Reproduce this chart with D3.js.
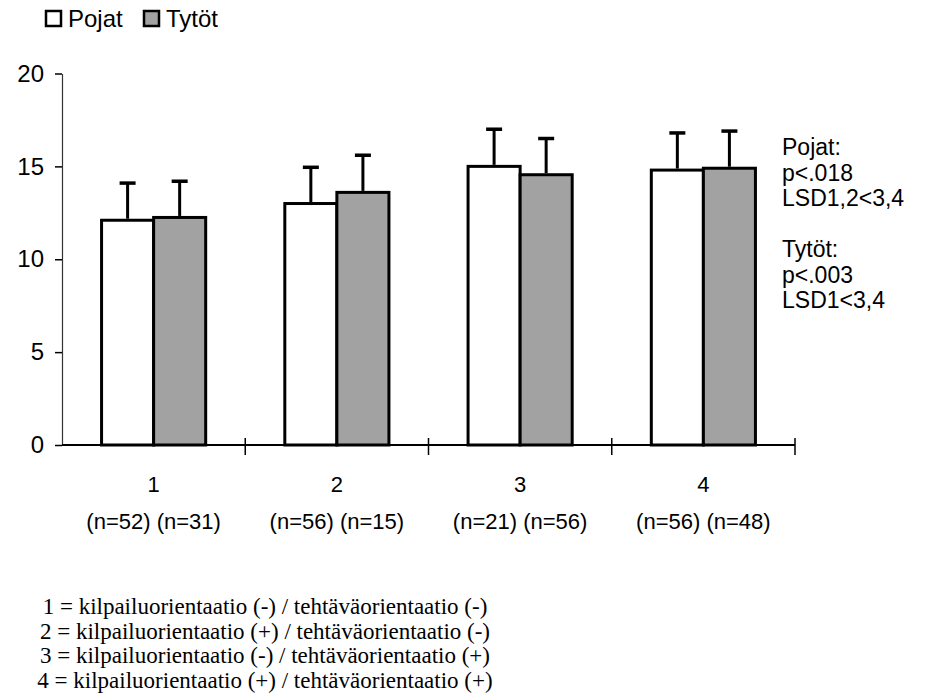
<!DOCTYPE html>
<html>
<head>
<meta charset="utf-8">
<script src="https://cdn.jsdelivr.net/npm/d3@7"></script>
<style>
  body { margin: 0; background: #fff; }
  text { font-family: "Liberation Sans", Arial, sans-serif; fill: #000; }
  .serif { font-family: "Liberation Serif", "Times New Roman", serif; }
</style>
</head>
<body>
<svg id="chart" width="936" height="693"></svg>
<script>
// data
var categories = ["1", "2", "3", "4"];
var nLabels = ["(n=52) (n=31)", "(n=56) (n=15)", "(n=21) (n=56)", "(n=56) (n=48)"];
var series = ["Pojat", "Tytöt"];
var pojatMean = [12.1, 13.0, 15.0, 14.8];
var tytotMean = [12.25, 13.6, 14.55, 14.9];
var pojatSD = [2.0, 1.95, 2.0, 2.0];
var tytotSD = [1.95, 2.0, 1.95, 2.0];
var yTicks = [0, 5, 10, 15, 20];
var statLines = ["Pojat:", "p<.018", "LSD1,2<3,4", "", "Tytöt:", "p<.003", "LSD1<3,4"];
var footLines = [
  "1 = kilpailuorientaatio (-) / tehtäväorientaatio (-)",
  "2 = kilpailuorientaatio (+) / tehtäväorientaatio (-)",
  "3 = kilpailuorientaatio (-) / tehtäväorientaatio (+)",
  "4 = kilpailuorientaatio (+) / tehtäväorientaatio (+)"
];

var svg = d3.select("#chart");
var plotL = 62, plotR = 795, plotT = 73.5, plotB = 445;

var fills = ["#fff", "#a2a2a2"];

var x = d3.scaleBand().domain(categories).range([plotL, plotR]).padding(0);
var xs = d3.scaleBand().domain(series).range([0, x.bandwidth()]).paddingInner(0).paddingOuter(0.76);
var y = d3.scaleLinear().domain([0, 20]).range([plotB, plotT]);

var data = categories.map(function(c, i) {
  return [
    { cat: c, key: "Pojat", mean: pojatMean[i], sd: pojatSD[i] },
    { cat: c, key: "Tytöt", mean: tytotMean[i], sd: tytotSD[i] }
  ];
});

// y axis
var yAxis = svg.append("g").attr("transform", "translate(" + plotL + ",0)")
  .call(d3.axisLeft(y).tickValues(yTicks).tickSize(7).tickSizeOuter(0).tickPadding(11));
yAxis.select(".domain").attr("stroke", "#333").attr("stroke-width", 1.2);
yAxis.selectAll(".tick line").attr("stroke", "#000").attr("stroke-width", 1.5);
yAxis.selectAll(".tick text").style("font-size", "24px").style("font-family", "Liberation Sans, Arial, sans-serif").attr("fill", "#000");

// bars
var groups = svg.selectAll("g.grp").data(data).enter().append("g")
  .attr("class", "grp")
  .attr("transform", function(d) { return "translate(" + x(d[0].cat) + ",0)"; });

groups.selectAll("rect").data(function(d) { return d; }).enter().append("rect")
  .attr("x", function(d) { return xs(d.key); })
  .attr("y", function(d) { return y(d.mean); })
  .attr("width", xs.bandwidth())
  .attr("height", function(d) { return y(0) - y(d.mean); })
  .attr("fill", function(d, i) { return fills[i]; })
  .attr("stroke", "#000").attr("stroke-width", 3);

// error bars (upper only)
var capW = 16;
groups.selectAll("line.err").data(function(d) { return d; }).enter().append("line")
  .attr("class", "err")
  .attr("x1", function(d) { return xs(d.key) + xs.bandwidth() / 2; })
  .attr("x2", function(d) { return xs(d.key) + xs.bandwidth() / 2; })
  .attr("y1", function(d) { return y(d.mean) - 1.5; })
  .attr("y2", function(d) { return y(d.mean + d.sd); })
  .attr("stroke", "#000").attr("stroke-width", 3);
groups.selectAll("line.cap").data(function(d) { return d; }).enter().append("line")
  .attr("class", "cap")
  .attr("x1", function(d) { return xs(d.key) + xs.bandwidth() / 2 - capW / 2; })
  .attr("x2", function(d) { return xs(d.key) + xs.bandwidth() / 2 + capW / 2; })
  .attr("y1", function(d) { return y(d.mean + d.sd); })
  .attr("y2", function(d) { return y(d.mean + d.sd); })
  .attr("stroke", "#000").attr("stroke-width", 3.5);

// x axis with ticks between categories
svg.append("line").attr("x1", plotL).attr("x2", plotR).attr("y1", y(0)).attr("y2", y(0))
  .attr("stroke", "#000").attr("stroke-width", 2);
var bounds = categories.map(function(c) { return x(c) + x.bandwidth(); });
svg.selectAll("line.xt").data(bounds).enter().append("line")
  .attr("class", "xt")
  .attr("x1", function(d) { return d; }).attr("x2", function(d) { return d; })
  .attr("y1", y(0) - 7).attr("y2", y(0) + 10)
  .attr("stroke", "#000").attr("stroke-width", 1.5);

svg.selectAll("text.cat").data(categories).enter().append("text")
  .attr("class", "cat")
  .attr("x", function(d) { return x(d) + x.bandwidth() / 2; })
  .attr("y", 492)
  .attr("text-anchor", "middle").style("font-size", "22px")
  .text(function(d) { return d; });
svg.selectAll("text.n").data(categories).enter().append("text")
  .attr("class", "n")
  .attr("x", function(d) { return x(d) + x.bandwidth() / 2; })
  .attr("y", 529)
  .attr("text-anchor", "middle").style("font-size", "22px")
  .text(function(d, i) { return nLabels[i]; });

// legend
var leg = svg.append("g");
var legX = [46, 144];
series.forEach(function(s, i) {
  leg.append("rect").attr("x", legX[i]).attr("y", 11).attr("width", 15).attr("height", 15)
    .attr("fill", fills[i]).attr("stroke", "#000").attr("stroke-width", 2.5);
  leg.append("text").attr("x", legX[i] + 22).attr("y", 27).style("font-size", "24px").text(s);
});

// stats text on the right
svg.selectAll("text.stat").data(statLines).enter().append("text")
  .attr("class", "stat")
  .attr("x", 782)
  .attr("y", function(d, i) { return 155 + i * 25.5; })
  .style("font-size", "23px")
  .text(function(d) { return d; });

// footnote
svg.selectAll("text.foot").data(footLines).enter().append("text")
  .attr("class", "foot serif")
  .attr("x", 265)
  .attr("y", function(d, i) { return 614 + i * 24.5; })
  .attr("text-anchor", "middle")
  .style("font-size", "23px")
  .text(function(d) { return d; });
</script>
</body>
</html>
